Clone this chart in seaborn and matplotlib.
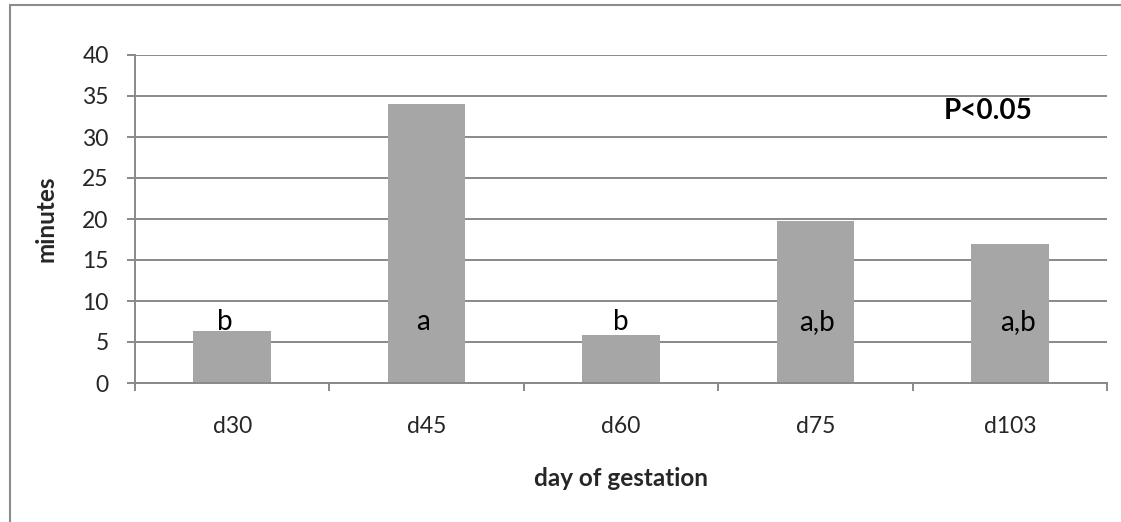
import matplotlib
matplotlib.use("Agg")
import matplotlib.pyplot as plt
import seaborn as sns
import pandas as pd
from matplotlib.lines import Line2D

# ---- data ----
categories = ["d30", "d45", "d60", "d75", "d103"]
minutes = [6.4, 34.0, 5.9, 19.8, 16.9]
letters = ["b", "a", "b", "a,b", "a,b"]
y_ticks = [0, 5, 10, 15, 20, 25, 30, 35, 40]
annotation = "P<0.05"

# ---- style ----
sns.set_theme(style="white")
plt.rcParams["font.family"] = ["Lato", "DejaVu Sans"]
GRID = "#898989"
BAR = "#A6A6A6"
FS = 16.5
FS_TITLE = 17.5
FS_NOTE = 20

fig = plt.figure(figsize=(11.21, 5.22), dpi=100)
ax = fig.add_axes([135 / 1121, 1 - 383 / 522, (1107 - 135) / 1121, (383 - 55) / 522])

df = pd.DataFrame({"day": categories, "minutes": minutes})
sns.barplot(data=df, x="day", y="minutes", color=BAR, saturation=1,
            width=0.4, ax=ax, edgecolor="none")

ax.set_xlim(-0.5, len(categories) - 0.5)
ax.set_ylim(0, 40)
ax.set_yticks(y_ticks)
ax.set_yticklabels([str(t) for t in y_ticks], fontsize=FS)
ax.yaxis.grid(True, color=GRID, linewidth=1.4)
ax.set_axisbelow(True)

for s in ["top", "right"]:
    ax.spines[s].set_visible(False)
for s in ["left", "bottom"]:
    ax.spines[s].set_color(GRID)
    ax.spines[s].set_linewidth(1.4)

ax.tick_params(axis="y", which="major", length=6, width=1.4, color=GRID,
               pad=13, left=True, labelsize=FS)
ax.tick_params(axis="x", which="major", length=0, pad=24, labelsize=FS)
ax.set_xticks([i - 0.5 for i in range(len(categories) + 1)], minor=True)
ax.tick_params(axis="x", which="minor", length=6, width=1.4, color=GRID,
               bottom=True, direction="out")

ax.set_xlabel("day of gestation", fontsize=FS_TITLE, fontweight="bold", labelpad=21)
ax.set_ylabel("minutes", fontsize=FS_TITLE, fontweight="bold", labelpad=18)

label_offsets = [-0.04, -0.02, 0.0, 0.01, 0.04]
for i, (lab, off) in enumerate(zip(letters, label_offsets)):
    ax.text(i + off, 7.4, lab, ha="center", va="center", fontsize=FS_NOTE, color="black")

ax.text(3.89, 33.2, annotation, ha="center", va="center", fontsize=FS_NOTE,
        fontweight="bold", color="black")

# outer chart frame (left and top visible)
fx = 10 / 1121
fy = 1 - 5 / 522
fig.add_artist(Line2D([fx, fx], [0, fy], transform=fig.transFigure,
                      color="#8C8C8C", linewidth=1.5))
fig.add_artist(Line2D([fx, 1], [fy, fy], transform=fig.transFigure,
                      color="#8C8C8C", linewidth=1.5))

fig.savefig("out.png", dpi=100)
